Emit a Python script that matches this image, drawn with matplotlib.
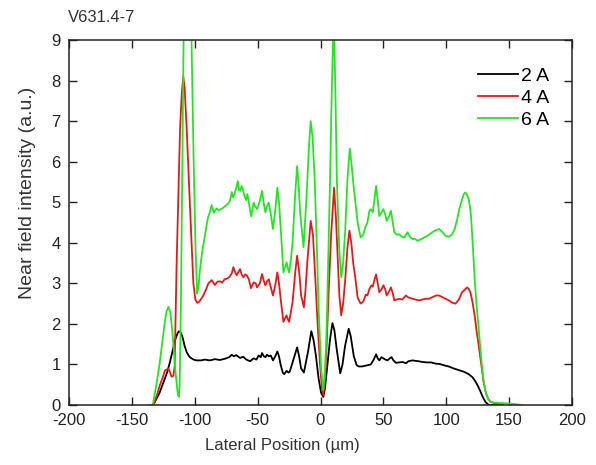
import matplotlib
matplotlib.use("Agg")
import matplotlib.pyplot as plt

# --------------------------------------------------------
# Data (lateral position in um, intensity a.u.)
# --------------------------------------------------------
x_2a = [-135, -133, -128, -125, -122, -119.8, -117.5, -115.7, -113.5, -112.5, -111, -109.6,
        -108, -106.4, -104, -101, -98.5, -95, -92, -88, -84, -80, -76, -72.5, -70.6, -69,
        -67, -64, -61.5, -59, -56, -53.2, -51, -49.2, -47.5, -46.5, -45, -43.8, -42.5, -41.1,
        -39.5, -37.8, -36, -34.3, -33, -31.6, -30, -28.9, -27, -25.5, -24.5, -22.2, -18.6,
        -17, -15.4, -13.2, -10, -7.3, -5.5, -3.8, -1.5, 0.5, 2.2, 3.5, 5.7, 7.5, 9.5, 11, 13,
        15.7, 17.5, 19.5, 22.4, 24, 26.5, 28.8, 30.5, 33, 37.3, 40, 42, 44.2, 45.5, 46.8, 48.5,
        50, 51.5, 53.4, 55, 56.5, 58, 60, 62.5, 65.3, 68, 70, 73.2, 75, 78, 81, 85, 88, 91.6,
        95, 98, 102, 106, 110, 114, 117.9, 121, 123.2, 125, 127.1, 129, 131.1, 133.7, 140]
y_2a = [0, 0, 0.3, 0.55, 0.8, 1.05, 1.35, 1.6, 1.78, 1.82, 1.78, 1.66,
        1.45, 1.3, 1.18, 1.12, 1.1, 1.1, 1.12, 1.1, 1.13, 1.11, 1.14, 1.18, 1.24, 1.2,
        1.23, 1.16, 1.19, 1.12, 1.08, 1.15, 1.12, 1.22, 1.18, 1.28, 1.2, 1.18, 1.24, 1.2,
        1.22, 1.1, 1.2, 1.32, 1.2, 0.98, 0.8, 0.76, 0.84, 0.8, 0.82, 1.05, 1.42,
        1.2, 0.9, 0.8, 1.3, 1.82, 1.6, 1.25, 0.65, 0.3, 0.2, 0.4, 1.05, 1.6, 2.02, 1.85, 1.35,
        0.78, 1.0, 1.45, 1.88, 1.7, 1.2, 0.98, 0.95, 0.95, 0.98, 1.0, 1.1, 1.25, 1.15, 1.1, 1.18,
        1.15, 1.12, 1.1, 1.15, 1.18, 1.1, 1.04, 1.05, 1.06, 1.03, 1.08, 1.1, 1.09, 1.08, 1.06,
        1.05, 1.05, 1.02, 1.01, 0.98, 0.95, 0.9, 0.86, 0.82, 0.76, 0.68, 0.58, 0.48, 0.34,
        0.2, 0.08, 0.0, 0.0]

x_4a = [-135, -133, -130, -127.6, -125, -123.7, -121, -119.5, -118.5, -117, -116, -114.4,
        -113, -111.7, -110.3, -109.1, -108, -106.4, -103.8, -101.1, -99.5, -98, -96.3, -93.2,
        -91, -89.2, -86.5, -84, -82, -80.3, -78, -76.3, -74, -72.3, -70.5, -69.3, -68, -66.6,
        -65, -64, -62.5, -61.3, -60, -58.7, -57, -55.3, -53.2, -51.5, -50.5, -48.2, -46.5,
        -45, -43.8, -42.5, -41.1, -39.5, -37.8, -36, -34.3, -33, -31.6, -29.5, -28, -27,
        -25.5, -24.9, -22.2, -20, -18.6, -17, -15.4, -13.2, -12, -10.5, -7.8, -6, -4.1, -2.3,
        -0.5, 1, 2.2, 3.5, 4.9, 6.5, 8.4, 10.8, 12.3, 13.8, 15, 16.5, 18, 19.7, 21.5, 23,
        24.5, 26, 27.8, 29.5, 31.9, 34, 36, 37.3, 38.9, 40.5, 41.6, 43, 44.2, 45.5, 46.8,
        48.5, 50, 51.5, 52.6, 54.5, 56, 57.5, 58.7, 60.5, 62.6, 65, 67.9, 70, 73.2, 75.5,
        78.4, 81, 84, 86.3, 89, 92, 94.2, 97, 99.5, 102, 105, 107.4, 110, 112.6, 115, 116.6,
        118, 119.2, 120.8, 122.6, 124, 125.8, 127.8, 129.7, 131.5, 133.2, 135, 138.9, 142, 145]
y_4a = [0, 0, 0.25, 0.5, 0.72, 0.85, 0.9, 0.8, 0.7, 0.72, 0.95, 3.5,
        5.2, 6.8, 7.7, 8.1, 7.8, 6.8, 4.9, 3.0, 2.6, 2.52, 2.55, 2.7,
        2.85, 3.0, 3.08, 2.96, 3.04, 3.05, 3.02, 3.1, 3.12, 3.16, 3.25, 3.4, 3.28, 3.2,
        3.3, 3.35, 3.2, 3.15, 3.22, 3.2, 3.1, 2.88, 3.02, 3.0, 2.9, 3.0, 3.23,
        3.05, 2.95, 3.05, 3.1, 2.9, 2.7, 2.95, 3.27, 3.0, 2.6, 2.05, 2.15, 2.21,
        2.08, 2.05, 2.54, 3.3, 3.68, 3.3, 2.7, 2.41, 2.8, 3.52, 4.54, 4.2, 3.1, 2.0,
        1.06, 0.45, 0.25, 0.6, 1.47, 2.8, 4.17, 5.36, 4.6, 3.52, 2.7, 2.21, 2.5, 3.11, 3.9, 4.3,
        4.0, 3.5, 3.11, 2.65, 2.5, 2.55, 2.72, 2.7, 2.86, 2.95, 2.92, 3.1, 3.22, 3.0, 2.78,
        2.85, 2.95, 2.85, 2.7, 2.8, 2.9, 2.75, 2.58, 2.6, 2.62, 2.6, 2.7, 2.65, 2.62, 2.6,
        2.58, 2.6, 2.62, 2.62, 2.66, 2.7, 2.7, 2.66, 2.62, 2.58, 2.52, 2.5, 2.6, 2.78, 2.85, 2.9,
        2.86, 2.78, 2.55, 2.21, 1.85, 1.47, 1.0, 0.57, 0.3, 0.16, 0.08, 0.04, 0.02, 0]

x_6a = [-135, -133.4, -130.5, -128, -126, -124, -122.5, -120.9, -119.5, -117.9, -116.5,
        -115.2, -113.4, -112.5, -112, -111, -109.9, -108.8, -107.5, -105.5, -104, -102.7,
        -100.8, -99.3, -98.1, -97, -96, -94, -92, -90.5, -89.3, -88, -86.6, -84.8, -82.6, -81,
        -79.9, -78, -75.9, -74, -72.5, -71.5, -70.6, -69.5, -68.4, -67, -65.8, -64.8, -63.9,
        -62.8, -61.8, -60.5, -59.1, -58.2, -57.2, -56, -55.1, -53.2, -52, -50.5, -48.5, -46.5,
        -45, -43.8, -42.5, -41.1, -39.5, -37.8, -36, -34.3, -33, -31.6, -29.5, -28, -27, -25.8,
        -24.9, -23.5, -22.2, -20.5, -18.6, -17.3, -16.2, -13.5, -12.3, -10.8, -9.3, -7.8, -6.3,
        -4.6, -3, -1.4, 0.5, 2.2, 3.5, 4.9, 6.2, 7.6, 9, 10.5, 11.8, 13, 14.8, 16.5, 18, 19.7,
        21.5, 23.3, 24.8, 26.3, 27.8, 29.5, 31.9, 34, 35.8, 37.3, 38.9, 40, 41.6, 43, 44.2,
        45.5, 46.8, 48.5, 50, 51.5, 52.6, 54.5, 56, 57.5, 58.7, 60.5, 62.6, 64.5, 66.6, 68,
        69.2, 71, 73.2, 75, 77.1, 79.5, 82.4, 85.5, 88.9, 91, 94.2, 96.5, 99.5, 102, 104.7,
        106.8, 108.7, 110.5, 112.6, 114, 115.3, 116.6, 117.9, 118.8, 119.7, 121, 122.6, 124,
        125.8, 127.8, 129.7, 131.5, 133.2, 135.5, 137.6, 142, 148, 155, 160]
y_6a = [0, 0, 0.5, 1.0, 1.5, 2.0, 2.3, 2.42, 2.3, 1.85, 1.3,
        0.78, 0.25, 0.2, 0.5, 2.5, 5.9, 9.2, 11.0, 12.0, 11.0, 9.2,
        5.9, 3.8, 2.75, 2.9, 3.3, 3.8, 4.15, 4.45, 4.64, 4.75, 4.93, 4.74, 4.85, 4.8,
        4.82, 4.85, 4.9, 4.95, 5.0, 5.1, 5.25, 5.12, 5.2, 5.35, 5.52, 5.3, 5.28,
        5.4, 5.33, 5.15, 5.05, 5.2, 5.05, 4.8, 4.65, 4.99, 4.9, 4.83, 5.0, 5.28,
        4.95, 4.75, 4.9, 4.99, 4.7, 4.34, 4.8, 5.36, 5.0, 4.34, 3.27, 3.4, 3.52, 3.35,
        3.27, 3.6, 4.01, 5.0, 5.89, 5.4, 4.75, 3.89, 4.5, 5.32, 6.3, 7.0, 6.6,
        5.56, 4.0, 2.29, 0.9, 0.37, 0.8, 1.88, 3.6, 5.56, 7.8, 9.6, 7.8, 5.56, 3.9, 3.15, 3.5, 4.34,
        5.6, 6.32, 5.9, 5.4, 4.99, 4.5, 4.13, 4.2, 4.4, 4.5, 4.79, 4.83, 4.75, 5.1, 5.4,
        5.05, 4.66, 4.75, 4.83, 4.7, 4.54, 4.65, 4.79, 4.5, 4.26, 4.2, 4.21, 4.15, 4.13, 4.2,
        4.26, 4.15, 4.09, 4.1, 4.05, 4.08, 4.13, 4.18, 4.26, 4.3, 4.34, 4.28, 4.17, 4.15, 4.21,
        4.35, 4.58, 4.85, 5.07, 5.2, 5.24, 5.18, 5.07, 4.9, 4.66, 4.0, 3.11, 2.5,
        1.88, 1.15, 0.57, 0.3, 0.16, 0.08, 0.06, 0.05, 0.04, 0.02, 0.0]

series_labels = ["2 A", "4 A", "6 A"]
x_ticks = [-200, -150, -100, -50, 0, 50, 100, 150, 200]
y_ticks = [0, 1, 2, 3, 4, 5, 6, 7, 8, 9]

plt.rcParams["font.family"] = ["Liberation Sans", "DejaVu Sans"]
plt.rcParams["font.size"] = 12
plt.rcParams["axes.unicode_minus"] = False

fig = plt.figure(figsize=(5.96, 4.65), dpi=100)
ax = fig.add_axes([69 / 596, 1 - 405 / 465, 503 / 596, 365 / 465])

ax.plot(x_2a, y_2a, color="black", lw=1.3, label=series_labels[0])
ax.plot(x_4a, y_4a, color="#e81818", lw=1.3, label=series_labels[1])
ax.plot(x_6a, y_6a, color="#22e622", lw=1.3, label=series_labels[2])

ax.set_xlim(-200, 200)
ax.set_ylim(0, 9)
ax.set_xticks(x_ticks)
ax.set_yticks(y_ticks)
ax.tick_params(direction="in", length=6, width=1.0, top=True, right=True,
               labelsize=12, pad=6, colors="#222222")
for sp in ax.spines.values():
    sp.set_linewidth(1.1)
    sp.set_color("#222222")

ax.set_xlabel("Lateral Position (\u00b5m)", fontsize=12, color="#333333")
ax.xaxis.set_label_coords(0.425, -0.09)
ax.set_ylabel("Near field intensity (a.u.)", fontsize=14, color="#333333")
ax.yaxis.set_label_coords(-0.066, 0.582)

ax.legend(loc="upper right", bbox_to_anchor=(0.955, 0.925), frameon=False,
          handlelength=2.06, handletextpad=0.15, labelspacing=0.22,
          borderpad=0, borderaxespad=0, fontsize=14)

fig.text(68 / 596, 1 - 17 / 465, "V631.4-7", fontsize=12, color="#333333",
         ha="left", va="center")

fig.savefig("out.png", dpi=100)
